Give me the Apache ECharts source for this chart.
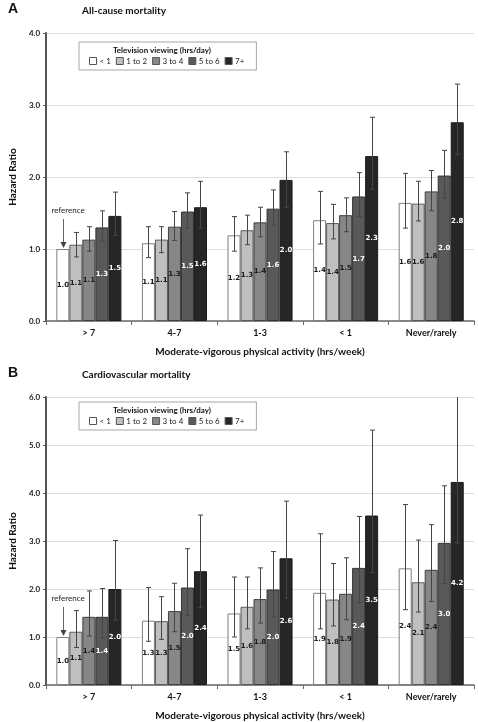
<!DOCTYPE html>
<html>
<head>
<meta charset="utf-8">
<script src="https://cdn.jsdelivr.net/npm/echarts@6/dist/echarts.min.js"></script>
<style>
  html, body { margin: 0; padding: 0; background: #fff; }
  #chart { width: 478px; height: 722px; }
</style>
</head>
<body>
<div id="chart"></div>
<script>
// ---------- data ----------
const categories = ['> 7', '4-7', '1-3', '< 1', 'Never/rarely'];
const tvGroups = ['< 1', '1 to 2', '3 to 4', '5 to 6', '7+'];
const yTicksA = [0, 1, 2, 3, 4];
const yTicksB = [0, 1, 2, 3, 4, 5, 6];

// Panel A: All-cause mortality (hazard ratios by TV group, across activity categories)
const allLt1   = [1.00, 1.08, 1.19, 1.40, 1.64];
const all1to2  = [1.06, 1.13, 1.26, 1.36, 1.63];
const all3to4  = [1.13, 1.31, 1.37, 1.47, 1.80];
const all5to6  = [1.30, 1.52, 1.56, 1.73, 2.02];
const all7plus = [1.46, 1.58, 1.96, 2.29, 2.76];

const allLowLt1   = [null, 0.88, 0.97, 1.07, 1.29];
const allLow1to2  = [0.89, 0.95, 1.06, 1.14, 1.39];
const allLow3to4  = [0.97, 1.12, 1.17, 1.24, 1.53];
const allLow5to6  = [1.11, 1.29, 1.33, 1.45, 1.71];
const allLow7plus = [1.19, 1.29, 1.58, 1.83, 2.31];

const allHighLt1   = [null, 1.31, 1.45, 1.80, 2.05];
const allHigh1to2  = [1.23, 1.31, 1.47, 1.62, 1.94];
const allHigh3to4  = [1.31, 1.52, 1.58, 1.71, 2.09];
const allHigh5to6  = [1.53, 1.78, 1.82, 2.06, 2.37];
const allHigh7plus = [1.79, 1.94, 2.35, 2.83, 3.29];

// Panel B: Cardiovascular mortality
const cvLt1   = [1.00, 1.34, 1.49, 1.92, 2.43];
const cv1to2  = [1.11, 1.33, 1.63, 1.78, 2.14];
const cv3to4  = [1.42, 1.54, 1.79, 1.90, 2.40];
const cv5to6  = [1.42, 2.03, 1.99, 2.44, 2.96];
const cv7plus = [2.00, 2.37, 2.64, 3.53, 4.23];

const cvLowLt1   = [null, 0.91, 1.00, 1.17, 1.57];
const cvLow1to2  = [0.78, 0.95, 1.17, 1.23, 1.52];
const cvLow3to4  = [1.02, 1.11, 1.29, 1.36, 1.74];
const cvLow5to6  = [0.98, 1.45, 1.42, 1.72, 2.11];
const cvLow7plus = [1.35, 1.61, 1.81, 2.34, 2.96];

const cvHighLt1   = [null, 2.03, 2.25, 3.15, 3.76];
const cvHigh1to2  = [1.55, 1.84, 2.25, 2.53, 3.02];
const cvHigh3to4  = [1.96, 2.12, 2.44, 2.65, 3.34];
const cvHigh5to6  = [2.01, 2.84, 2.78, 3.51, 4.15];
const cvHigh7plus = [3.01, 3.54, 3.83, 5.31, 6.40];

const referenceLabel = 'reference';

// ---------- styling ----------
const FONT = 'Lato';
const barColors = ['#ffffff', '#bfbfbf', '#878787', '#595959', '#262626'];
const barBorders = ['#7f7f7f', '#5a5a5a', '#3f3f3f', '#333333', '#1a1a1a'];
const labelColors = ['#1a1a1a', '#1a1a1a', '#1a1a1a', '#ffffff', '#ffffff'];
const CAT_GAP = 0.24;

const panels = [
  {
    values: [allLt1, all1to2, all3to4, all5to6, all7plus],
    lows: [allLowLt1, allLow1to2, allLow3to4, allLow5to6, allLow7plus],
    highs: [allHighLt1, allHigh1to2, allHigh3to4, allHigh5to6, allHigh7plus],
    ticks: yTicksA
  },
  {
    values: [cvLt1, cv1to2, cv3to4, cv5to6, cv7plus],
    lows: [cvLowLt1, cvLow1to2, cvLow3to4, cvLow5to6, cvLow7plus],
    highs: [cvHighLt1, cvHigh1to2, cvHigh3to4, cvHigh5to6, cvHigh7plus],
    ticks: yTicksB
  }
];

function barWidthFor(api) {
  const catW = api.size([1, 0])[0];
  return catW * (1 - CAT_GAP) / tvGroups.length;
}

function errorRender(params, api) {
  const cat = api.value(0), tv = api.value(1), lo = api.value(2), hi = api.value(3);
  const bw = barWidthFor(api);
  const pLo = api.coord([cat, lo]);
  const pHi = api.coord([cat, hi]);
  const x = Math.round(pLo[0] + (tv - (tvGroups.length - 1) / 2) * bw) + 0.5;
  const top = params.coordSys.y;
  let yHi = pHi[1];
  const capTop = yHi >= top;
  if (!capTop) yHi = top;
  const yLo = pLo[1];
  const style = { stroke: '#454545', lineWidth: 1 };
  const children = [
    { type: 'line', shape: { x1: x, y1: yLo, x2: x, y2: yHi }, style: style },
    { type: 'line', shape: { x1: x - 2.5, y1: yLo, x2: x + 2.5, y2: yLo }, style: style }
  ];
  if (capTop) children.push({ type: 'line', shape: { x1: x - 2.5, y1: yHi, x2: x + 2.5, y2: yHi }, style: style });
  return { type: 'group', children: children };
}

function refRender(params, api) {
  const bw = barWidthFor(api);
  const p = api.coord([api.value(0), api.value(1)]);
  const x = Math.round(p[0] - 2 * bw) + 0.5;
  const y = p[1];
  return {
    type: 'group',
    children: [
      { type: 'line', shape: { x1: x, y1: y - 30, x2: x, y2: y - 6 }, style: { stroke: '#666', lineWidth: 1 } },
      { type: 'polygon', shape: { points: [[x - 3, y - 7], [x + 3, y - 7], [x, y - 1]] }, style: { fill: '#444' } },
      { type: 'text', style: { text: referenceLabel, x: x - 12, y: y - 39, fontSize: 8, fontFamily: FONT, fill: '#222', textVerticalAlign: 'middle' } }
    ]
  };
}

const grids = [
  { left: 41, right: 4, top: 33, bottom: 401 },
  { left: 41, right: 4, top: 397, bottom: 36 }
];

const xAxes = [], yAxes = [], series = [];
panels.forEach((pn, pi) => {
  xAxes.push({
    type: 'category', gridIndex: pi, data: categories,
    name: 'Moderate-vigorous physical activity (hrs/week)',
    nameLocation: 'middle', nameGap: 26,
    nameTextStyle: { fontFamily: FONT, fontWeight: 'bold', fontSize: 10, color: '#111' },
    axisLine: { lineStyle: { color: '#6a6a6a', width: 1.5 } },
    axisTick: { show: true, length: 4, lineStyle: { color: '#6a6a6a' } },
    axisLabel: { fontFamily: FONT, fontWeight: 'bold', fontSize: 9, color: '#111', margin: 8 }
  });
  yAxes.push({
    type: 'value', gridIndex: pi,
    min: pn.ticks[0], max: pn.ticks[pn.ticks.length - 1], interval: 1,
    name: 'Hazard Ratio', nameLocation: 'middle', nameGap: 28,
    nameTextStyle: { fontFamily: FONT, fontWeight: 'bold', fontSize: 10, color: '#111' },
    axisLine: { show: true, lineStyle: { color: '#555', width: 2 } },
    axisTick: { show: true, length: 3, lineStyle: { color: '#555' } },
    axisLabel: { fontFamily: FONT, fontWeight: 'bold', fontSize: 8, color: '#222', margin: 6,
      formatter: v => v.toFixed(1) },
    splitLine: { lineStyle: { color: '#dedede', width: 1 } }
  });
  tvGroups.forEach((g, i) => {
    series.push({
      type: 'bar', name: g, xAxisIndex: pi, yAxisIndex: pi,
      data: pn.values[i],
      barGap: '0%', barCategoryGap: (CAT_GAP * 100) + '%',
      itemStyle: { color: barColors[i], borderColor: barBorders[i], borderWidth: 1 },
      label: {
        show: true, position: 'inside', formatter: p => p.value.toFixed(1),
        fontFamily: 'DejaVu Sans', fontWeight: 'bold', fontSize: 7, color: labelColors[i]
      },
      emphasis: { disabled: true },
      animation: false, z: 2
    });
  });
  const errData = [];
  tvGroups.forEach((g, i) => {
    categories.forEach((c, ci) => {
      const lo = pn.lows[i][ci], hi = pn.highs[i][ci];
      if (lo != null && hi != null) errData.push([ci, i, lo, hi]);
    });
  });
  series.push({
    type: 'custom', xAxisIndex: pi, yAxisIndex: pi,
    data: errData, encode: { x: 0, y: 2 },
    renderItem: errorRender, z: 5, animation: false, silent: true
  });
  series.push({
    type: 'custom', xAxisIndex: pi, yAxisIndex: pi,
    data: [[0, pn.values[0][0]]], encode: { x: 0, y: 1 },
    renderItem: refRender, z: 6, animation: false, silent: true
  });
});

const legendBase = {
  data: tvGroups, orient: 'horizontal', left: 79,
  icon: 'rect', itemWidth: 7, itemHeight: 7, itemGap: 5,
  borderColor: '#a6a6a6', borderWidth: 1, padding: [15, 12, 5, 10],
  itemStyle: { borderColor: '#555', borderWidth: 1 },
  textStyle: { fontFamily: FONT, fontSize: 8, color: '#222', padding: [0, 0, 0, -2] },
  selectedMode: false
};

const option = {
  animation: false,
  backgroundColor: '#ffffff',
  grid: grids,
  xAxis: xAxes,
  yAxis: yAxes,
  legend: [
    Object.assign({}, legendBase, { top: 42 }),
    Object.assign({}, legendBase, { top: 402 })
  ],
  graphic: [
    { type: 'text', left: 8, top: 2, style: { text: 'A', fontFamily: 'Liberation Sans', fontWeight: 'bold', fontSize: 14, fill: '#111' } },
    { type: 'text', left: 82, top: 6, style: { text: 'All-cause mortality', fontFamily: FONT, fontWeight: 'bold', fontSize: 10, fill: '#111' } },
    { type: 'text', x: 162, y: 50, style: { text: 'Television viewing (hrs/day)', fontFamily: FONT, fontWeight: 'bold', fontSize: 8, fill: '#111', textAlign: 'center', textVerticalAlign: 'middle' } },
    { type: 'text', left: 8, top: 366, style: { text: 'B', fontFamily: 'Liberation Sans', fontWeight: 'bold', fontSize: 14, fill: '#111' } },
    { type: 'text', left: 82, top: 370, style: { text: 'Cardiovascular mortality', fontFamily: FONT, fontWeight: 'bold', fontSize: 10, fill: '#111' } },
    { type: 'text', x: 162, y: 410, style: { text: 'Television viewing (hrs/day)', fontFamily: FONT, fontWeight: 'bold', fontSize: 8, fill: '#111', textAlign: 'center', textVerticalAlign: 'middle' } }
  ],
  series: series
};

const chart = echarts.init(document.getElementById('chart'), null, { renderer: 'canvas' });
chart.setOption(option);
</script>
</body>
</html>
